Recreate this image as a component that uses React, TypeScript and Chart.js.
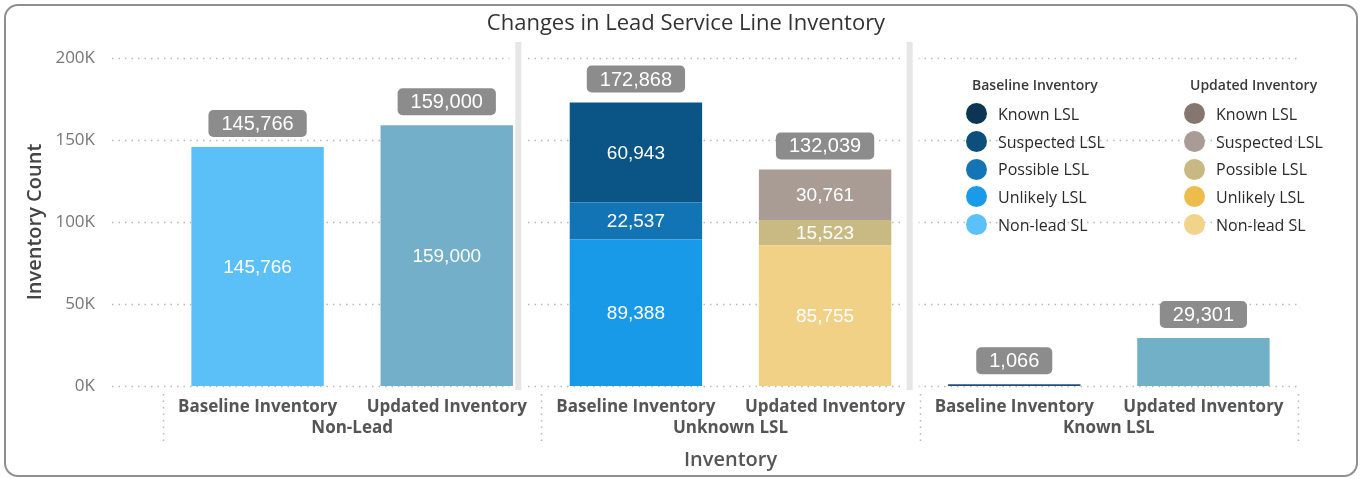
import { useEffect, useRef } from 'react';
import { Chart, registerables } from 'chart.js';

Chart.register(...registerables);

const categories = ['Baseline Inventory', 'Updated Inventory', 'Baseline Inventory', 'Updated Inventory', 'Baseline Inventory', 'Updated Inventory'];
const groups = ['Non-Lead', 'Unknown LSL', 'Known LSL'];
const bottomValues = [145766, 159000, 89388, 85755, 1066, 29301];
const middleValues = [null, null, 22537, 15523, null, null];
const topValues = [null, null, 60943, 30761, null, null];
const totals = [145766, 159000, 172868, 132039, 1066, 29301];
const showInside = [true, true, true, true, false, false];
const yTicks = [0, 50000, 100000, 150000, 200000];

const bottomColors = ['#5bc0f8', '#73afc8', '#199ae8', '#f0d185', '#1f4f78', '#72b0c8'];
const middleColors = ['#1273b5', '#1273b5', '#1273b5', '#c9b983', '#1273b5', '#1273b5'];
const topColors = ['#0a5486', '#0a5486', '#0a5486', '#a99c95', '#0a5486', '#0a5486'];

const legendBaseline = ['Known LSL', 'Suspected LSL', 'Possible LSL', 'Unlikely LSL', 'Non-lead SL'];
const legendBaselineColors = ['#0b3553', '#0d4f7c', '#1574b5', '#1a9be8', '#5bc1fa'];
const legendUpdated = ['Known LSL', 'Suspected LSL', 'Possible LSL', 'Unlikely LSL', 'Non-lead SL'];
const legendUpdatedColors = ['#85776f', '#a99b95', '#c8b883', '#ecbd4c', '#f1d38a'];

const FONT = '"Liberation Sans", Arial, sans-serif';
const UIFONT = '"Open Sans", "Liberation Sans", sans-serif';

const fmt = (v: number) => v.toLocaleString('en-US');

const decorPlugin = {
  id: 'decor',
  beforeDatasetsDraw(chart: any) {
    const { ctx, chartArea, scales } = chart;
    const x = scales.x;
    const y = scales.y;
    ctx.save();
    ctx.strokeStyle = '#b8b8b8';
    ctx.lineWidth = 1.5;
    ctx.setLineDash([1.5, 5]);
    for (const t of yTicks) {
      const py = Math.round(y.getPixelForValue(t)) + 0.5;
      ctx.beginPath();
      ctx.moveTo(chartArea.left - 51, py);
      ctx.lineTo(chartArea.right + 2, py);
      ctx.stroke();
    }
    ctx.setLineDash([]);
    const half = (x.getPixelForValue(1) - x.getPixelForValue(0)) / 2;
    const sepOffsets = [-23, -10];
    [1, 3].forEach((idx, i) => {
      const bx = x.getPixelForValue(idx) + half + sepOffsets[i];
      ctx.fillStyle = '#ffffff';
      ctx.fillRect(bx - 9, chartArea.top - 18, 18, chartArea.bottom - chartArea.top + 22);
      ctx.fillStyle = '#e6e6e6';
      ctx.fillRect(bx - 3, chartArea.top - 16, 6, chartArea.bottom - chartArea.top + 20);
    });
    ctx.strokeStyle = '#b8b8b8';
    ctx.lineWidth = 1.5;
    ctx.setLineDash([1.5, 5]);
    [0, 2, 4, 6].forEach((idx) => {
      const bx = Math.round(x.getPixelForValue(idx) - half) + 0.5;
      ctx.beginPath();
      ctx.moveTo(bx, chartArea.bottom + 8);
      ctx.lineTo(bx, chartArea.bottom + 55);
      ctx.stroke();
    });
    ctx.setLineDash([]);
    ctx.restore();
  },
  afterDatasetsDraw(chart: any) {
    const { ctx, scales, chartArea } = chart;
    const x = scales.x;
    const y = scales.y;
    ctx.save();
    ctx.font = `19px ${FONT}`;
    ctx.fillStyle = '#ffffff';
    ctx.textAlign = 'center';
    ctx.textBaseline = 'middle';
    chart.data.datasets.forEach((ds: any, di: number) => {
      const meta = chart.getDatasetMeta(di);
      meta.data.forEach((bar: any, i: number) => {
        const v = ds.data[i];
        if (v == null || !showInside[i]) return;
        const props = bar.getProps(['x', 'y', 'base'], true);
        ctx.fillText(fmt(v), props.x, (props.y + props.base) / 2 + 1);
      });
    });
    ctx.font = `20px ${FONT}`;
    totals.forEach((t, i) => {
      const px = x.getPixelForValue(i);
      const py = y.getPixelForValue(t);
      const text = fmt(t);
      const w = ctx.measureText(text).width + 26;
      const h = 27;
      const bx = px - w / 2;
      const by = py - 10 - h;
      ctx.fillStyle = '#8c8c8c';
      ctx.beginPath();
      (ctx as any).roundRect(bx, by, w, h, 5);
      ctx.fill();
      ctx.fillStyle = '#ffffff';
      ctx.fillText(text, px, by + h / 2 + 1);
    });
    ctx.font = `bold 17px ${UIFONT}`;
    ctx.fillStyle = '#555555';
    groups.forEach((g, gi) => {
      const cx = (x.getPixelForValue(gi * 2) + x.getPixelForValue(gi * 2 + 1)) / 2;
      ctx.fillText(g, cx, chartArea.bottom + 42);
    });
    ctx.font = `600 20px ${UIFONT}`;
    ctx.fillStyle = '#555555';
    ctx.fillText('Inventory', (chartArea.left + chartArea.right) / 2, chartArea.bottom + 74);
    ctx.save();
    ctx.translate(35, (chartArea.top + chartArea.bottom) / 2);
    ctx.rotate(-Math.PI / 2);
    ctx.fillStyle = '#444444';
    ctx.font = `600 20px ${UIFONT}`;
    ctx.fillText('Inventory Count', 0, 0);
    ctx.restore();
    ctx.font = `22px ${UIFONT}`;
    ctx.fillStyle = '#333333';
    ctx.fillText('Changes in Lead Service Line Inventory', 686, 24);
    ctx.restore();
  },
};

export default function App() {
  const ref = useRef<HTMLCanvasElement | null>(null);
  useEffect(() => {
    document.body.style.margin = '0';
    const canvas = ref.current;
    if (!canvas) return;
    const chart = new Chart(canvas, {
      type: 'bar',
      data: {
        labels: categories,
        datasets: [
          { label: 'bottom', data: bottomValues, backgroundColor: bottomColors },
          { label: 'middle', data: middleValues as any, backgroundColor: middleColors },
          { label: 'top', data: topValues as any, backgroundColor: topColors },
        ],
      },
      options: {
        animation: false,
        responsive: false,
        maintainAspectRatio: false,
        layout: { padding: { top: 58, right: 64, left: 0, bottom: 0 } },
        datasets: { bar: { categoryPercentage: 1, barPercentage: 0.7 } },
        plugins: { legend: { display: false }, tooltip: { enabled: false }, title: { display: false } },
        scales: {
          x: {
            stacked: true,
            grid: { display: false },
            border: { display: false },
            ticks: { color: '#555555', font: { family: UIFONT, size: 17, weight: 'bold' }, padding: 3, maxRotation: 0, autoSkip: false },
            afterFit: (s: any) => { s.height = 93; s.paddingLeft = 0; s.paddingRight = 0; },
          },
          y: {
            stacked: true,
            min: 0,
            max: 200000,
            grid: { display: false },
            border: { display: false },
            afterBuildTicks: (s: any) => { s.ticks = yTicks.map((v) => ({ value: v })); },
            ticks: { color: '#777777', font: { family: UIFONT, size: 17 }, padding: 60, callback: (v: any) => `${Number(v) / 1000}K` },
            afterFit: (s: any) => { s.width = 163; s.paddingTop = 0; s.paddingBottom = 0; },
          },
        },
      } as any,
      plugins: [decorPlugin],
    });
    return () => chart.destroy();
  }, []);

  const legendCol = (title: string, labels: string[], colors: string[], left: number) => (
    <div style={{ position: 'absolute', left, top: 75, fontFamily: UIFONT, color: '#333' }}>
      <div style={{ fontSize: 14, fontWeight: 600, color: '#3a3a3a', height: 20, lineHeight: '20px', marginLeft: 6 }}>{title}</div>
      <div style={{ height: 5 }} />
      {labels.map((l, i) => (
        <div key={i} style={{ display: 'flex', alignItems: 'center', height: 27.7 }}>
          <span style={{ width: 21, height: 21, borderRadius: '50%', background: colors[i], display: 'inline-block', marginRight: 11 }} />
          <span style={{ fontSize: 16, color: '#2a2a2a' }}>{l}</span>
        </div>
      ))}
    </div>
  );

  return (
    <div style={{ position: 'relative', width: 1362, height: 479, background: '#fff', overflow: 'hidden' }}>
      <canvas ref={ref} width={1362} height={479} style={{ position: 'absolute', left: 0, top: 0 }} />
      <div style={{ position: 'absolute', left: 4, top: 4, width: 1350, height: 469, border: '2px solid #8f8f8f', borderRadius: 14, pointerEvents: 'none' }} />
      {legendCol('Baseline Inventory', legendBaseline, legendBaselineColors, 966)}
      {legendCol('Updated Inventory', legendUpdated, legendUpdatedColors, 1184)}
    </div>
  );
}
